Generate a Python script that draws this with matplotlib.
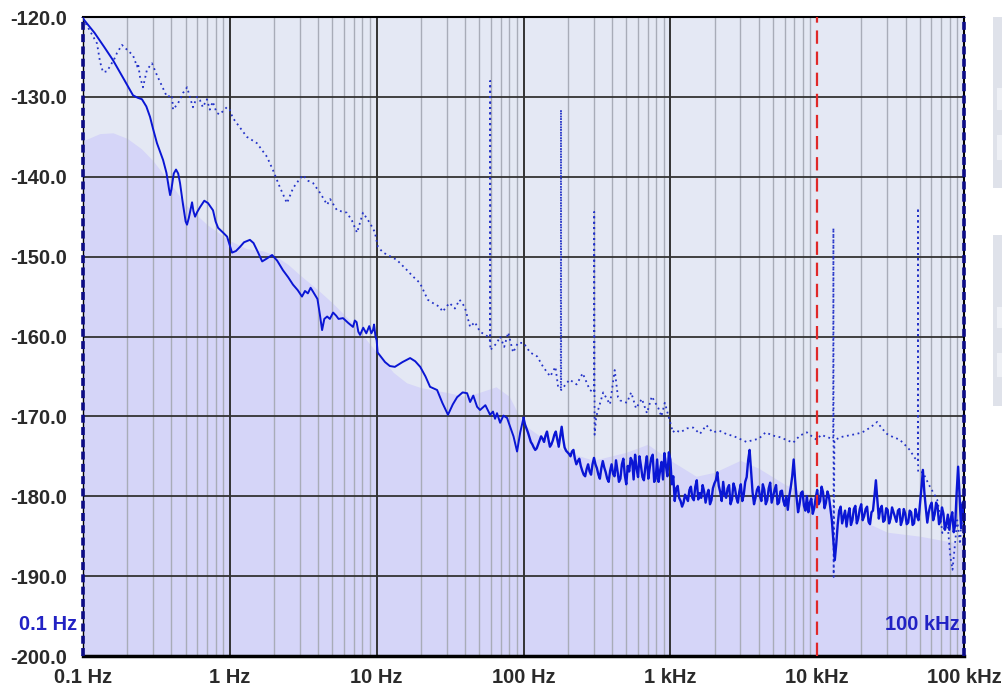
import numpy as np
import matplotlib
matplotlib.use("Agg")
import matplotlib.pyplot as plt
from matplotlib.patches import Rectangle
from matplotlib.ticker import FixedLocator, LogLocator, NullFormatter

plt.rcParams["font.family"] = ["Liberation Sans", "DejaVu Sans"]

# ── Data ───────────────────────────────────────────────────────────────────────

FREQ_TICKS  = [0.1, 1, 10, 100, 1e3, 1e4, 1e5]
FREQ_LABELS = ["0.1 Hz", "1 Hz", "10 Hz", "100 Hz", "1 kHz", "10 kHz", "100 kHz"]
DB_TICKS    = [-200, -190, -180, -170, -160, -150, -140, -130, -120]

MARKER_FREQ = 1e4          # red dashed marker
BAND_START  = 0.1
BAND_STOP   = 1e5

# smoothed reference floor (shaded area), (Hz, dB)
FLOOR = [
    (0.1, -135.5), (0.13, -134.6), (0.16, -134.5), (0.2, -135.2), (0.25, -136.5),
    (0.3, -138.0), (0.4, -141.0), (0.5, -143.5), (0.7, -146.0), (1.0, -148.0),
    (1.3, -149.0), (1.7, -149.3), (2.0, -149.8), (2.5, -151.0), (3.0, -152.3),
    (4.0, -154.2), (5.0, -155.8), (7.0, -158.5), (10, -162.0), (13, -164.5),
    (16, -165.8), (20, -166.4), (30, -167.0), (40, -167.5), (50, -167.0),
    (65, -166.3), (80, -167.5), (100, -171.0), (130, -172.5), (200, -174.5),
    (300, -175.5), (500, -174.5), (700, -173.5), (1000, -175.5), (1500, -177.5),
    (2000, -177.0), (3000, -175.5), (4000, -176.5), (6000, -178.5), (8000, -179.5),
    (1e4, -180.0), (1.5e4, -182.0), (2e4, -183.0), (3e4, -184.5), (5e4, -185.0),
    (7e4, -185.5), (1e5, -186.0),
]

# solid trace below 100 Hz, (Hz, dB)
SOLID_LF = [
    (0.1, -120.2), (0.12, -122.0), (0.14, -123.8), (0.16, -125.4), (0.19, -127.8),
    (0.219, -129.8), (0.235, -130.1), (0.252, -130.3), (0.27, -131.2), (0.286, -132.5),
    (0.30, -134.0), (0.319, -135.8), (0.351, -137.9), (0.37, -139.5), (0.385, -141.5),
    (0.392, -142.3), (0.40, -141.6), (0.415, -139.6), (0.43, -139.1), (0.445, -139.6),
    (0.458, -140.8), (0.48, -143.5), (0.50, -145.6), (0.511, -146.0), (0.525, -145.2),
    (0.553, -143.2), (0.565, -144.3), (0.58, -145.0), (0.60, -144.4), (0.627, -143.8),
    (0.67, -143.0), (0.71, -143.3), (0.768, -144.2), (0.80, -145.6), (0.832, -146.4),
    (0.9, -147.0), (0.958, -147.5), (1.035, -149.5), (1.1, -149.3), (1.17, -148.8),
    (1.25, -148.2), (1.37, -147.9), (1.45, -148.3), (1.55, -149.4), (1.66, -150.6),
    (1.8, -150.2), (1.94, -149.8), (2.1, -150.5), (2.30, -151.7), (2.5, -152.6),
    (2.69, -153.5), (2.9, -154.2), (3.10, -155.0), (3.25, -154.3), (3.4, -154.6),
    (3.55, -153.9), (3.69, -154.4), (3.95, -155.3), (4.1, -157.2), (4.25, -159.2),
    (4.4, -157.8), (4.6, -157.5), (4.8, -157.8), (5.05, -157.0), (5.3, -157.4),
    (5.5, -157.8), (5.9, -157.7), (6.4, -158.3), (6.9, -158.8), (7.1, -158.0),
    (7.3, -158.2), (7.5, -159.4), (7.71, -159.8), (8.1, -158.9), (8.5, -159.6),
    (8.9, -158.7), (9.2, -159.6), (9.44, -159.2), (9.6, -158.5), (9.8, -159.9),
    (10.0, -160.5), (10.15, -162.0), (11.4, -163.2), (12.3, -163.7), (13.3, -163.8),
    (15.0, -163.2), (16.9, -162.7), (18.3, -163.1), (19.8, -163.8), (21.5, -165.0),
    (23.1, -166.3), (25.8, -166.7), (28.0, -168.3), (30.6, -169.8), (33.0, -168.5),
    (35.3, -167.6), (38.5, -167.0), (41.3, -167.1), (43.3, -168.2), (45.5, -167.4),
    (48.3, -168.8), (50.6, -169.2), (55, -168.6), (59.2, -169.8), (62, -169.4),
    (64, -170.3), (66, -169.6), (69.3, -170.8), (73, -169.9), (77.3, -170.2),
    (81.1, -171.3), (85.5, -172.5), (90.4, -174.4), (95.0, -172.0),
]

# solid trace 100 Hz .. 100 kHz, 50 readings per decade (dB)
SOLID_HF = [
    -170.2, -171.5, -172.6, -173.5, -174.2, -173.5, -172.5, -173.2, -171.9, -173.8,
    -173.0, -171.9, -173.8, -171.3, -173.9, -174.5, -175.0, -174.2, -176.0, -175.3,
    -176.8, -177.5, -176.0, -177.3, -175.2, -176.5, -177.8, -175.6, -177.0, -178.2,
    -176.0, -177.5, -176.8, -177.8, -175.3, -178.5, -176.9, -175.6, -174.8, -177.6,
    -176.2, -178.0, -175.0, -176.4, -174.8, -177.8, -178.2, -175.7, -174.6, -177.5,
    -175.4, -177.5, -179.0, -180.2, -181.3, -179.8, -180.6, -178.8, -180.5, -178.0,
    -179.6, -178.6, -180.8, -179.2, -180.5, -178.4, -177.0, -179.5, -178.2, -180.2,
    -178.6, -180.4, -179.0, -180.8, -178.5, -179.8, -177.6, -174.2, -179.5, -180.2,
    -178.8, -180.6, -179.2, -180.5, -178.3, -180.0, -178.6, -180.8, -179.3, -181.2,
    -181.7, -178.9, -175.4, -180.2, -181.0, -179.4, -181.8, -182.0, -180.3, -181.5,
    -179.2, -180.6, -179.5, -180.8, -180.0, -183.0, -188.0, -183.5, -181.3, -182.6,
    -183.8, -181.5, -183.0, -181.2, -182.8, -181.0, -182.5, -181.3, -183.5, -181.8,
    -178.0, -182.8, -181.2, -183.0, -181.7, -182.8, -182.0, -183.2, -181.6, -183.0,
    -182.2, -183.3, -182.0, -183.4, -182.5, -181.0, -176.7, -181.5, -182.0, -180.8,
    -182.3, -181.3, -183.0, -182.2, -183.5, -184.2, -182.0, -183.6, -176.3, -184.0,
    -182.0,
]

# readings halfway between the SOLID_HF samples (dB)
SOLID_HF_MID = [
    -171.0, -172.0, -173.2, -173.9, -174.0, -173.0, -172.8, -172.4, -172.9, -173.5,
    -172.3, -172.9, -172.5, -172.8, -174.3, -174.7, -174.4, -175.3, -175.6, -176.2,
    -177.3, -176.6, -176.9, -176.0, -176.0, -177.3, -176.5, -176.4, -177.8, -176.8,
    -177.2, -175.5, -178.2, -176.0, -177.4, -176.2, -175.2, -177.9, -176.5, -175.0,
    -177.6, -176.3, -177.8, -175.2, -178.2, -175.4, -176.8, -177.9, -176.2, -174.5,
    -178.5, -180.6, -178.7, -180.6, -180.8, -180.2, -179.2, -180.2, -178.8, -180.4,
    -180.2, -179.4, -179.8, -181.0, -179.0, -178.0, -178.7, -180.6, -179.8, -179.0,
    -181.0, -178.4, -180.2, -179.4, -180.6, -178.2, -175.5, -176.8, -181.0, -179.2,
    -180.0, -178.5, -181.0, -179.0, -180.8, -179.2, -181.0, -179.4, -180.6, -180.0,
    -180.0, -177.5, -178.0, -182.0, -179.6, -181.2, -180.0, -180.8, -182.2, -180.2,
    -181.0, -178.8, -181.5, -179.4, -181.5, -185.5, -186.0, -181.8, -183.4, -181.8,
    -182.4, -183.6, -181.6, -183.4, -181.6, -183.0, -181.6, -183.2, -182.0, -180.0,
    -180.5, -181.6, -183.2, -181.5, -183.4, -181.4, -182.6, -181.8, -183.6, -181.6,
    -183.5, -181.8, -183.6, -181.6, -183.0, -179.0, -179.5, -183.3, -181.2, -183.0,
    -180.8, -183.5, -181.4, -184.2, -182.3, -182.8, -184.5, -179.5, -180.0, -181.0,
]

# dotted trace, (Hz, dB)
DOTTED = [
    (0.1, -120.2), (0.1245, -123.3), (0.1306, -125.6), (0.1368, -126.9), (0.1457, -126.8),
    (0.1651, -125.1), (0.1704, -124.5), (0.1842, -123.5), (0.219, -124.8), (0.2333, -126.2),
    (0.237, -125.8), (0.2445, -127.5), (0.2562, -128.8), (0.2727, -126.6), (0.295, -125.8),
    (0.3192, -127.3), (0.3506, -128.9), (0.3733, -130.0), (0.4039, -129.8), (0.4103, -131.6),
    (0.444, -130.8), (0.4804, -129.5), (0.5116, -128.8), (0.5358, -130.1), (0.561, -131.3),
    (0.5975, -130.0), (0.6255, -130.4), (0.655, -131.3), (0.6975, -130.3), (0.7302, -131.6),
    (0.7646, -130.6), (0.8141, -132.0), (0.8525, -132.2), (0.9534, -131.3), (0.9983, -131.6),
    (1.045, -132.6), (1.168, -133.8), (1.305, -135.0), (1.53, -135.8), (1.79, -137.5),
    (1.97, -139.2), (2.19, -141.3), (2.45, -143.3), (2.58, -142.3), (2.70, -141.4),
    (2.93, -140.5), (3.15, -139.8), (3.41, -140.5), (3.69, -140.8), (4.11, -142.0),
    (4.60, -143.5), (4.82, -142.8), (5.37, -144.2), (6.27, -144.5), (6.79, -145.5),
    (7.35, -147.0), (8.07, -144.5), (9.0, -145.8), (9.7, -146.9), (10.2, -148.8),
    (11.1, -149.5), (13.7, -150.4), (16.1, -151.7), (17.7, -152.5), (19.7, -153.3),
    (22.3, -155.4), (24.1, -155.8), (26.9, -156.3), (28.1, -156.9), (31.3, -155.8),
    (34.1, -156.5), (36.7, -155.4), (39.8, -156.3), (43.3, -158.8), (46.6, -158.2),
    (50.6, -159.4), (57.1, -160.0), (59.2, -160.5), (59.3, -128.0), (59.4, -161.7),
    (66.0, -160.8), (69.3, -160.0), (73.9, -161.3), (78.7, -159.5), (85.0, -162.0),
    (91.6, -160.8), (100, -160.8), (111, -162.0), (124, -162.5), (136, -163.8),
    (152, -165.0), (165, -163.8), (172, -166.3), (179.5, -166.5), (180, -131.6),
    (180.5, -166.7), (206, -165.4), (230, -166.0), (253, -164.6), (283, -166.7),
    (302, -167.0), (303, -144.4), (305, -172.3), (313, -170.0), (349, -167.0),
    (388, -168.5), (418, -164.2), (440, -167.6), (455, -168.0), (506, -168.3),
    (541, -167.0), (584, -169.0), (640, -167.8), (693, -169.6), (748, -167.5),
    (830, -169.0), (869, -170.0), (917, -168.3), (1000, -170.8), (1040, -172.0),
    (1080, -171.7), (1170, -172.0), (1300, -171.5), (1430, -171.4), (1590, -172.2),
    (1760, -171.1), (1940, -172.0), (2160, -171.8), (2400, -172.2), (2720, -172.5),
    (3300, -173.2), (3610, -173.0), (4000, -172.8), (4460, -172.0), (4980, -172.4),
    (5560, -172.6), (6260, -173.0), (6860, -173.3), (7630, -172.4), (8510, -172.0),
    (9340, -172.6), (9880, -172.9), (10700, -172.3), (11600, -172.6), (12850, -172.8),
    (12900, -146.4), (12950, -190.1), (13100, -173.0), (14400, -172.6), (16300, -172.4),
    (18500, -172.2), (20300, -172.0), (23000, -171.4), (25600, -170.7), (27600, -171.5),
    (29900, -172.2), (32900, -172.6), (36400, -172.9), (39800, -173.6), (42700, -174.2),
    (46200, -175.2), (48500, -175.6), (48600, -143.9), (48700, -177.0), (52400, -177.0),
    (58600, -178.8), (65600, -180.4), (69000, -182.5), (71200, -184.6), (76900, -183.0),
    (80800, -187.6), (83500, -189.2), (86300, -186.5), (89900, -183.0), (94000, -186.0),
    (97300, -180.8), (100000, -185.0),
]

# ── Style ──────────────────────────────────────────────────────────────────────

BG_COLOUR    = "#e4e8f4"
FLOOR_COLOUR = "#d5d5f8"
TRACE_COLOUR = "#0a16d4"
DOT_COLOUR   = "#2433c8"
EDGE_COLOUR  = "#0c0c86"
LABEL_BLUE   = "#2222c4"
TEXT_COLOUR  = "#2a2a2a"
MINOR_GRID   = "#a8acb8"
MAJOR_GRID   = "#333333"
PANEL_COLOUR = "#dfe2ea"
PANEL_INNER  = "#eef0f5"


def main():
    fig = plt.figure(figsize=(10.02, 6.87), dpi=100)
    ax = fig.add_axes([83 / 1002, 31 / 687, 881 / 1002, 639 / 687])
    ax.set_facecolor(BG_COLOUR)
    ax.set_xscale("log")
    ax.set_xlim(BAND_START, BAND_STOP)
    ax.set_ylim(-200, -120)

    # shaded floor
    ff, fd = np.array(FLOOR).T
    ax.fill_between(ff, -200, fd, color=FLOOR_COLOUR, lw=0, zorder=0.2)

    # grid (major verticals drawn by hand so the marker hides its own one)
    ax.set_axisbelow(True)
    ax.xaxis.set_major_locator(FixedLocator(FREQ_TICKS))
    ax.xaxis.set_minor_locator(LogLocator(base=10, subs=np.arange(2, 10), numticks=60))
    ax.xaxis.set_minor_formatter(NullFormatter())
    ax.set_xticklabels(FREQ_LABELS)
    ax.set_yticks(DB_TICKS)
    ax.set_yticklabels([f"{v:.1f}" for v in DB_TICKS])
    ax.grid(True, which="minor", axis="x", color=MINOR_GRID, lw=1.0)
    ax.grid(True, which="major", axis="y", color=MAJOR_GRID, lw=1.3)
    for f in FREQ_TICKS[1:-1]:
        if f != MARKER_FREQ:
            ax.axvline(f, color=MAJOR_GRID, lw=1.4, zorder=0.6)
    ax.tick_params(which="both", length=0)
    ax.tick_params(axis="y", pad=11.5)
    ax.tick_params(axis="x", pad=8.5)
    for lab in ax.get_xticklabels() + ax.get_yticklabels():
        lab.set_fontsize(14.5)
        lab.set_fontweight("bold")
        lab.set_color(TEXT_COLOUR)

    # traces
    sf, sd = np.array(SOLID_LF).T
    hf = np.empty(len(SOLID_HF) + len(SOLID_HF_MID))
    hf[0::2] = SOLID_HF
    hf[1::2] = SOLID_HF_MID
    hf_freq = np.logspace(2, 5, len(hf))
    ax.plot(np.append(sf, hf_freq[0]), np.append(sd, hf[0]),
            color=TRACE_COLOUR, lw=1.4, zorder=4)
    ax.plot(hf_freq, hf, color=TRACE_COLOUR, lw=1.7, zorder=4)

    df_, dd = np.array(DOTTED).T
    ax.plot(df_, dd, color=DOT_COLOUR, lw=1.3, linestyle=(0, (1, 2)), zorder=3)

    # marker + band edges
    ax.axvline(MARKER_FREQ, color="#e02828", lw=1.6, linestyle=(0, (6, 3.5)), zorder=5)

    for s in ax.spines.values():
        s.set_color("black")
    ax.spines["top"].set_linewidth(1.5)
    ax.spines["bottom"].set_linewidth(2.5)
    ax.spines["left"].set_linewidth(1.0)
    ax.spines["right"].set_linewidth(1.5)
    for f in (BAND_START, BAND_STOP):
        ax.axvline(f, color=EDGE_COLOUR, lw=2.6, linestyle=(0, (2.2, 1.2)),
                   zorder=6, clip_on=False)

    ax.annotate("0.1 Hz", xy=(BAND_START, -196.1), xytext=(-4, 0),
                textcoords="offset points", ha="right", va="center",
                fontsize=14.5, fontweight="bold", color=LABEL_BLUE, annotation_clip=False)
    ax.annotate("100 kHz", xy=(BAND_STOP, -196.0), xytext=(-3, 0),
                textcoords="offset points", ha="right", va="center",
                fontsize=14.5, fontweight="bold", color=LABEL_BLUE)

    # cut-off side panels on the right
    for top, inner in [(17, (88, 110, 135, 160)), (235, (307, 328, 353, 377))]:
        fig.patches.append(Rectangle((993 / 1002, (687 - top - 171) / 687), 9 / 1002, 171 / 687,
                                     transform=fig.transFigure, color=PANEL_COLOUR, lw=0))
        for y0, y1 in [(inner[0], inner[1]), (inner[2], inner[3])]:
            fig.patches.append(Rectangle((997 / 1002, (687 - y1) / 687), 5 / 1002, (y1 - y0) / 687,
                                         transform=fig.transFigure, color=PANEL_INNER, lw=0))

    fig.savefig("out.png", dpi=100)
    plt.close(fig)


if __name__ == "__main__":
    main()
